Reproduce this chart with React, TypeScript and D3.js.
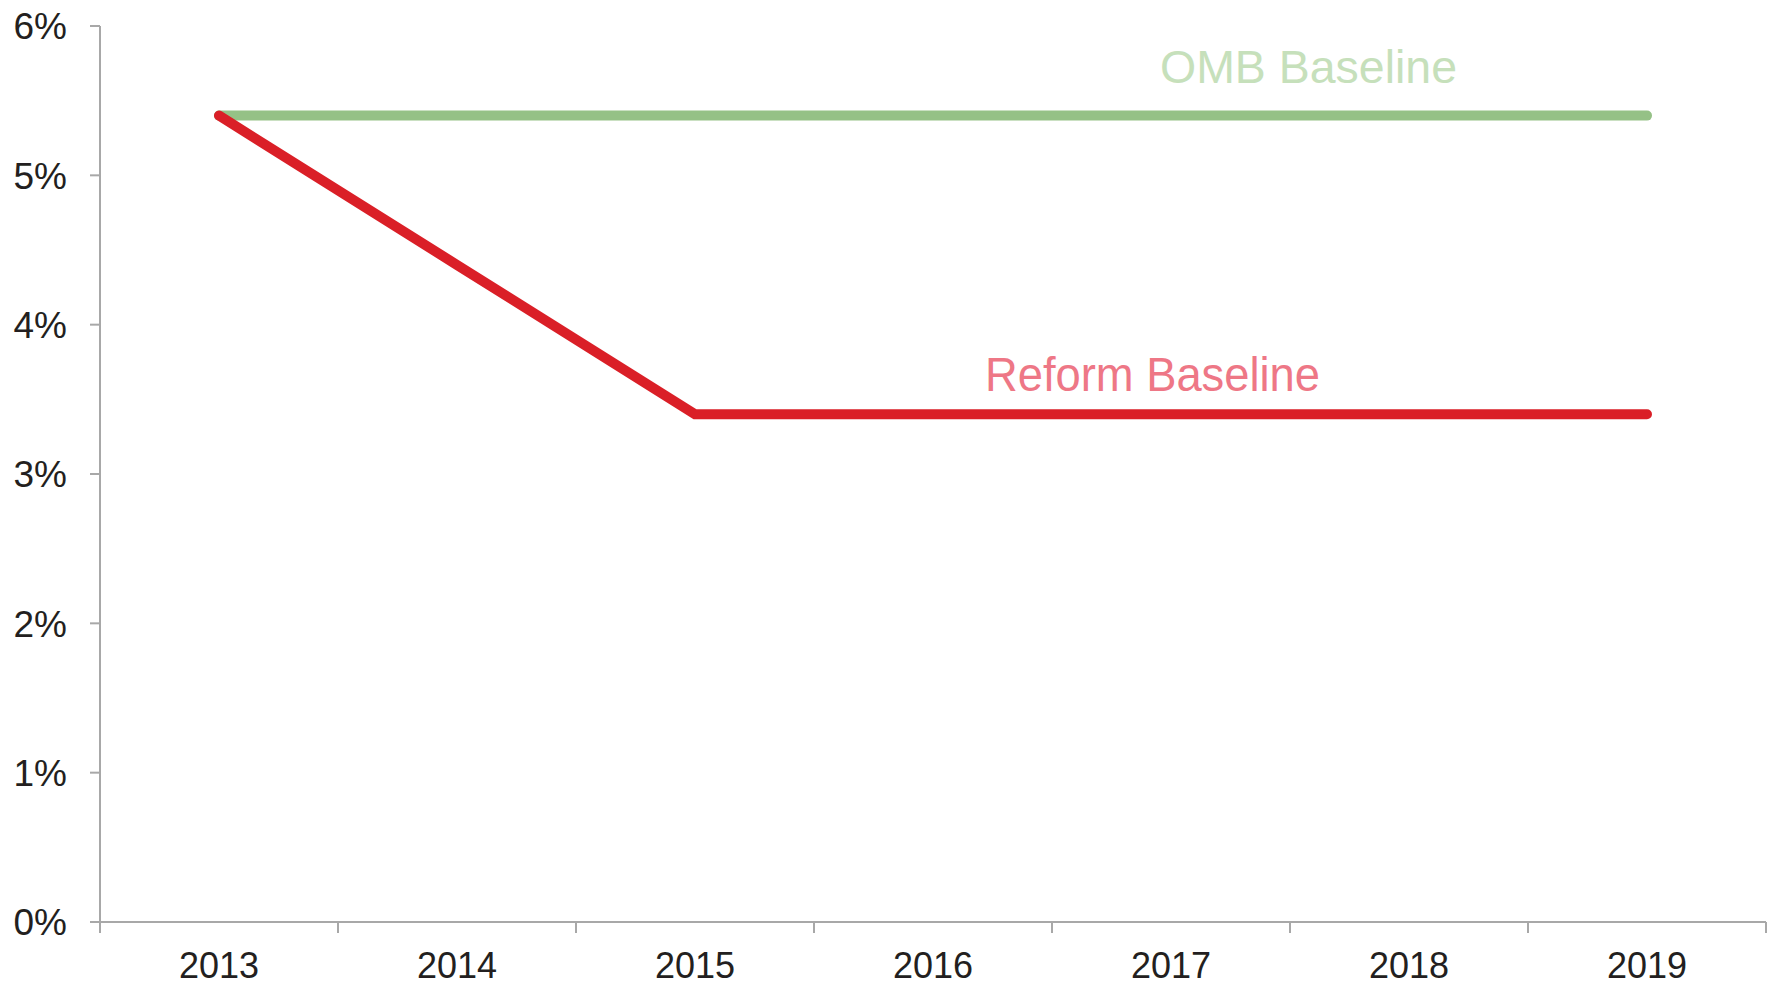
import * as d3 from 'd3'

const WIDTH = 1771
const HEIGHT = 986
const MARGIN = { top: 26, right: 5, bottom: 64, left: 100 }

const years = ['2013', '2014', '2015', '2016', '2017', '2018', '2019']
const ombBaseline = [5.4, 5.4, 5.4, 5.4, 5.4, 5.4, 5.4]
const reformBaseline = [5.4, 4.4, 3.4, 3.4, 3.4, 3.4, 3.4]
const yTicks = [0, 1, 2, 3, 4, 5, 6]

const AXIS = '#a8a8a8'
const TEXT = '#231f20'

export default function App() {
  const innerWidth = WIDTH - MARGIN.left - MARGIN.right
  const innerHeight = HEIGHT - MARGIN.top - MARGIN.bottom

  const x = d3.scaleBand<string>().domain(years).range([0, innerWidth])
  const y = d3.scaleLinear().domain([0, 6]).range([innerHeight, 0])
  const cx = (yr: string) => (x(yr) ?? 0) + x.bandwidth() / 2

  const line = d3.line<number>()
    .x((_, i) => cx(years[i]))
    .y(d => y(d))

  // band edges for x ticks
  const edges = [...years.map(yr => x(yr) ?? 0), innerWidth]

  return (
    <svg width={WIDTH} height={HEIGHT} style={{ position: 'absolute', left: 0, top: 0 }}
      fontFamily="'Liberation Sans', Arial, sans-serif">
      <g transform={`translate(${MARGIN.left}, ${MARGIN.top})`}>
        {/* Y axis */}
        <line x1={0} x2={0} y1={0} y2={innerHeight} stroke={AXIS} strokeWidth={2} />
        {yTicks.map(t => (
          <g key={t} transform={`translate(0, ${y(t)})`}>
            <line x1={-10} x2={0} stroke={AXIS} strokeWidth={2} />
            <text x={-33} dy="0.36em" textAnchor="end" fill={TEXT} fontSize={37}>{t}%</text>
          </g>
        ))}

        {/* X axis */}
        <line x1={-10} x2={innerWidth} y1={innerHeight} y2={innerHeight} stroke={AXIS} strokeWidth={2} />
        {edges.map((e, i) => (
          <line key={i} x1={e} x2={e} y1={innerHeight} y2={innerHeight + 11} stroke={AXIS} strokeWidth={2} />
        ))}
        {years.map(yr => (
          <text key={yr} x={cx(yr)} y={innerHeight + 56} textAnchor="middle" fill={TEXT} fontSize={36}>
            {yr}
          </text>
        ))}

        {/* Series */}
        <path d={line(ombBaseline) ?? ''} fill="none" stroke="#95c186" strokeWidth={10}
          strokeLinecap="round" strokeLinejoin="miter" />
        <path d={line(reformBaseline) ?? ''} fill="none" stroke="#da1f27" strokeWidth={10}
          strokeLinecap="round" strokeLinejoin="miter" />

        {/* Labels */}
        <text x={1160 - MARGIN.left} y={83 - MARGIN.top} fill="#c6e0bb" fontSize={47}
          textLength={297} lengthAdjust="spacingAndGlyphs">OMB Baseline</text>
        <text x={985 - MARGIN.left} y={391 - MARGIN.top} fill="#ee7786" fontSize={48}
          textLength={335} lengthAdjust="spacingAndGlyphs">Reform Baseline</text>
      </g>
    </svg>
  )
}
